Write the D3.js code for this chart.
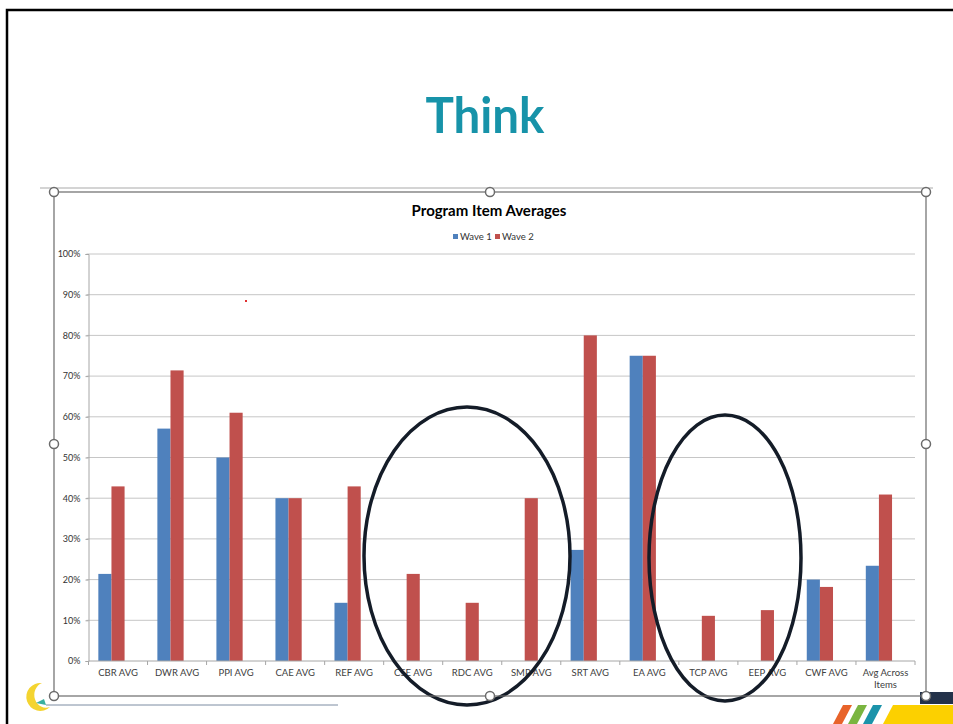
<!DOCTYPE html>
<html>
<head>
<meta charset="utf-8">
<script src="https://cdn.jsdelivr.net/npm/d3@7"></script>
<style>
  html, body { margin: 0; padding: 0; background: #ffffff; }
  svg { display: block; }
</style>
</head>
<body>
<svg id="slide" width="953" height="724"></svg>
<script>
// Program item averages, two survey waves
const categories = ["CBR AVG", "DWR AVG", "PPI AVG", "CAE AVG", "REF AVG", "CSE AVG", "RDC AVG",
                    "SMP AVG", "SRT AVG", "EA AVG", "TCP AVG", "EEP AVG", "CWF AVG", "Avg Across Items"];
const wave1 = [0.214, 0.571, 0.50, 0.40, 0.143, 0, 0, 0, 0.273, 0.75, 0, 0, 0.20, 0.234];
const wave2 = [0.429, 0.714, 0.61, 0.40, 0.429, 0.214, 0.143, 0.40, 0.80, 0.75, 0.111, 0.125, 0.182, 0.409];
const seriesNames = ["Wave 1", "Wave 2"];
const seriesColors = ["#4f81bd", "#c0504d"];
const yTicks = [0, 0.1, 0.2, 0.3, 0.4, 0.5, 0.6, 0.7, 0.8, 0.9, 1.0];

const svg = d3.select("#slide");
const chartFont = "Lato, 'Open Sans', sans-serif";

// Slide frame
svg.append("path")
  .attr("d", "M7,724 V10 H953")
  .attr("fill", "none").attr("stroke", "#000").attr("stroke-width", 2.5);

// Slide heading
svg.append("text")
  .attr("x", 485).attr("y", 133)
  .attr("text-anchor", "middle")
  .attr("font-family", chartFont)
  .attr("font-weight", 700)
  .attr("font-size", 50)
  .attr("textLength", 119)
  .attr("lengthAdjust", "spacingAndGlyphs")
  .attr("fill", "#1793a9")
  .text("Think");

// Light rule above the chart object
svg.append("line")
  .attr("x1", 40).attr("x2", 933).attr("y1", 188).attr("y2", 188)
  .attr("stroke", "#d4d4d4").attr("stroke-width", 2);

// Plot geometry
const plot = { left: 88.5, right: 915, top: 254, bottom: 661 };

const x0 = d3.scaleBand()
  .domain(categories)
  .range([plot.left, plot.right])
  .paddingInner(1 / 3)
  .paddingOuter(1 / 6);

// three bar slots per category, the first two are used by the waves
const x1 = d3.scaleBand()
  .domain([0, 1, 2])
  .range([0, x0.bandwidth()]);

const y = d3.scaleLinear().domain([0, 1]).range([plot.bottom, plot.top]);

// Gridlines
svg.append("g")
  .selectAll("line")
  .data(yTicks.slice(1))
  .join("line")
  .attr("x1", plot.left - 2).attr("x2", plot.right)
  .attr("y1", d => y(d)).attr("y2", d => y(d))
  .attr("stroke", "#c6c6c6").attr("stroke-width", 1);

// Y axis
const yAxis = d3.axisLeft(y)
  .tickValues(yTicks)
  .tickFormat(d3.format(".0%"))
  .tickSize(3)
  .tickPadding(5);
const gy = svg.append("g").attr("transform", `translate(${plot.left},0)`).call(yAxis);
gy.select(".domain").attr("stroke", "#a6a6a6");
gy.selectAll(".tick line").attr("stroke", "#a6a6a6");
gy.selectAll(".tick text")
  .attr("font-family", chartFont).attr("font-size", 9).attr("fill", "#333");

// Bars
const series = [wave1, wave2];
series.forEach((vals, si) => {
  svg.append("g")
    .selectAll("rect")
    .data(categories.map((c, i) => ({ c, v: vals[i] })))
    .join("rect")
    .attr("x", d => x0(d.c) + x1(si))
    .attr("width", x1.bandwidth())
    .attr("y", d => y(d.v))
    .attr("height", d => y(0) - y(d.v))
    .attr("fill", seriesColors[si]);
});

// X axis with ticks between categories
const gx = svg.append("g").attr("transform", `translate(0,${plot.bottom})`);
gx.append("line")
  .attr("x1", plot.left).attr("x2", plot.right)
  .attr("stroke", "#a6a6a6");
gx.selectAll("line.sep")
  .data(d3.range(categories.length + 1))
  .join("line")
  .attr("class", "sep")
  .attr("x1", i => plot.left + i * (plot.right - plot.left) / categories.length)
  .attr("x2", i => plot.left + i * (plot.right - plot.left) / categories.length)
  .attr("y1", 0).attr("y2", 4)
  .attr("stroke", "#a6a6a6");

const xLabels = gx.selectAll("text.lab")
  .data(categories)
  .join("text")
  .attr("class", "lab")
  .attr("x", d => x0(d) + x0.bandwidth() / 2)
  .attr("y", 15)
  .attr("text-anchor", "middle")
  .attr("font-family", chartFont).attr("font-size", 9.5).attr("fill", "#404040");
xLabels.each(function (d) {
  const t = d3.select(this);
  const lines = d === "Avg Across Items" ? ["Avg Across", "Items"] : [d];
  lines.forEach((ln, k) => {
    t.append("tspan").attr("x", x0(d) + x0.bandwidth() / 2).attr("dy", k === 0 ? 0 : 12).text(ln);
  });
});

// Chart title
svg.append("text")
  .attr("x", 489).attr("y", 216)
  .attr("text-anchor", "middle")
  .attr("font-family", chartFont).attr("font-weight", 700)
  .attr("font-size", 15).attr("fill", "#000")
  .text("Program Item Averages");

// Legend
const legendX = [453, 495];
seriesNames.forEach((name, i) => {
  svg.append("rect")
    .attr("x", legendX[i]).attr("y", 234).attr("width", 5).attr("height", 5)
    .attr("fill", seriesColors[i]);
  svg.append("text")
    .attr("x", legendX[i] + 7).attr("y", 239.5)
    .attr("font-family", chartFont).attr("font-size", 9.5).attr("fill", "#333")
    .text(name);
});

// Stray red mark
svg.append("rect").attr("x", 245).attr("y", 300).attr("width", 2).attr("height", 2).attr("fill", "#e03030");

// Hand-drawn ellipses around categories without wave 1 data
const ellipses = [
  { cx: 467, cy: 556, rx: 103, ry: 149 },
  { cx: 725, cy: 558, rx: 76, ry: 143 }
];
svg.append("g").selectAll("ellipse")
  .data(ellipses)
  .join("ellipse")
  .attr("cx", d => d.cx).attr("cy", d => d.cy)
  .attr("rx", d => d.rx).attr("ry", d => d.ry)
  .attr("fill", "none").attr("stroke", "#141c28").attr("stroke-width", 3.5);

// Bottom decorations
svg.append("line")
  .attr("x1", 46).attr("x2", 338).attr("y1", 705).attr("y2", 705)
  .attr("stroke", "#7d8ca2").attr("stroke-width", 1);
svg.append("rect").attr("x", 920).attr("y", 692).attr("width", 33).attr("height", 12).attr("fill", "#24324a");
svg.append("path").attr("d", "M893,705 H953 V724 H883 Z").attr("fill", "#fcd000");
const stripes = [
  { x: 833, c: "#e8632a" },
  { x: 848, c: "#7ab540" },
  { x: 863, c: "#1b93aa" }
];
svg.append("g").selectAll("path")
  .data(stripes)
  .join("path")
  .attr("d", d => `M${d.x},724 L${d.x + 10},705 L${d.x + 19},705 L${d.x + 9},724 Z`)
  .attr("fill", d => d.c);

// Small logo at lower left
const logo = svg.append("g").attr("transform", "translate(38,697)");
logo.append("path")
  .attr("d", "M4,-14 A14,14 0 1,0 12,10 A11,12 0 1,1 4,-14 Z")
  .attr("fill", "#f4d430");
logo.append("path")
  .attr("d", "M-2,6 L6,2 L8,8 Z").attr("fill", "#3ab0a0");

// Chart object selection frame and handles
svg.append("rect")
  .attr("x", 54).attr("y", 192).attr("width", 872).attr("height", 504)
  .attr("fill", "none").attr("stroke", "#6b6b6b").attr("stroke-width", 1.2);
const handles = [[54, 192], [490, 192], [926, 192], [54, 444], [926, 444], [54, 696], [490, 696], [926, 696]];
svg.append("g").selectAll("circle")
  .data(handles)
  .join("circle")
  .attr("cx", d => d[0]).attr("cy", d => d[1]).attr("r", 4.5)
  .attr("fill", "#fff").attr("stroke", "#6b6b6b").attr("stroke-width", 1.5);
</script>
</body>
</html>
